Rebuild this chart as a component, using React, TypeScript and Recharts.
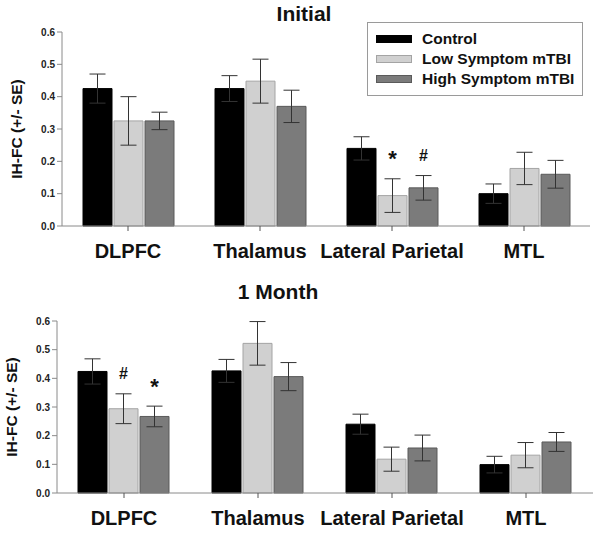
import React from "react";
import {
  BarChart,
  Bar,
  XAxis,
  YAxis,
  ErrorBar,
  LabelList,
} from "recharts";

const regions = ["DLPFC", "Thalamus", "Lateral Parietal", "MTL"];
const yTicks = [0, 0.1, 0.2, 0.3, 0.4, 0.5, 0.6];

// Initial
const initialControl = [0.425, 0.425, 0.24, 0.1];
const initialControlSE = [0.045, 0.04, 0.036, 0.03];
const initialLow = [0.325, 0.448, 0.094, 0.178];
const initialLowSE = [0.075, 0.068, 0.052, 0.05];
const initialHigh = [0.325, 0.37, 0.118, 0.16];
const initialHighSE = [0.027, 0.05, 0.038, 0.043];
const initialLowMarks = ["", "", "*", ""];
const initialHighMarks = ["", "", "#", ""];

// 1 Month
const monthControl = [0.424, 0.426, 0.24, 0.099];
const monthControlSE = [0.044, 0.04, 0.035, 0.029];
const monthLow = [0.294, 0.522, 0.118, 0.132];
const monthLowSE = [0.052, 0.076, 0.042, 0.044];
const monthHigh = [0.267, 0.406, 0.157, 0.178];
const monthHighSE = [0.036, 0.049, 0.045, 0.033];
const monthLowMarks = ["#", "", "", ""];
const monthHighMarks = ["*", "", "", ""];

const groups = [
  { key: "control", name: "Control", fill: "#000000", stroke: "#000000" },
  { key: "low", name: "Low Symptom mTBI", fill: "#d0d0d0", stroke: "#a4a4a4" },
  { key: "high", name: "High Symptom mTBI", fill: "#7b7b7b", stroke: "#5a5a5a" },
];

const font = "Arial, 'Liberation Sans', sans-serif";
const axisColor = "#8a8a8a";

function buildRows(
  control: number[], controlSE: number[],
  low: number[], lowSE: number[],
  high: number[], highSE: number[],
  lowMarks: string[], highMarks: string[]
) {
  return regions.map((region, i) => ({
    region,
    control: control[i],
    controlSE: controlSE[i],
    low: low[i],
    lowSE: lowSE[i],
    high: high[i],
    highSE: highSE[i],
    lowMark: lowMarks[i],
    highMark: highMarks[i],
  }));
}

const initialRows = buildRows(
  initialControl, initialControlSE, initialLow, initialLowSE,
  initialHigh, initialHighSE, initialLowMarks, initialHighMarks
);
const monthRows = buildRows(
  monthControl, monthControlSE, monthLow, monthLowSE,
  monthHigh, monthHighSE, monthLowMarks, monthHighMarks
);

// significance marks sit a bit above the top of the error bar
function markLabel(rows: any[], key: string, lift: number) {
  return (props: any) => {
    const { x, y, width, height, index } = props;
    const row = rows[index];
    const mark = row[key + "Mark"];
    if (!mark) return null;
    const perUnit = height / row[key];
    const errTop = y - row[key + "SE"] * perUnit;
    return (
      <text
        x={x + width / 2}
        y={errTop - lift}
        textAnchor="middle"
        dominantBaseline="central"
        fontFamily={font}
        fontWeight="bold"
        fontSize={mark === "*" ? 22 : 16}
        fill="#111"
      >
        {mark}
      </text>
    );
  };
}

function LegendBox() {
  return (
    <div
      style={{
        position: "absolute",
        left: 367,
        top: 22,
        width: 216,
        border: "1px solid #9a9a9a",
        background: "#fff",
        padding: "6px 0 6px 8px",
        boxSizing: "border-box",
        fontFamily: font,
        fontWeight: "bold",
        fontSize: 15.5,
        color: "#111",
      }}
    >
      {groups.map((g) => (
        <div key={g.key} style={{ display: "flex", alignItems: "center", height: 20 }}>
          <span
            style={{
              display: "inline-block",
              width: 34,
              height: 6,
              background: g.fill,
              border: `1px solid ${g.stroke}`,
              marginRight: 10,
            }}
          />
          {g.name}
        </div>
      ))}
    </div>
  );
}

type PanelProps = {
  rows: any[];
  height: number;
  margin: { top: number; right: number; left: number; bottom: number };
};

function Panel({ rows, height, margin }: PanelProps) {
  return (
    <BarChart
      width={602}
      height={height}
      data={rows}
      margin={margin}
      barCategoryGap={21}
      barGap={2}
    >
      <XAxis
        dataKey="region"
        stroke={axisColor}
        tickLine={{ stroke: "#555" }}
        tickSize={5}
        tick={{ fill: "#111", fontSize: 20, fontWeight: "bold", fontFamily: font, dy: 11 }}
        interval={0}
      />
      <YAxis
        domain={[0, 0.6]}
        ticks={yTicks}
        tickFormatter={(v: number) => v.toFixed(1)}
        stroke={axisColor}
        tickSize={5}
        width={55}
        tick={{ fill: "#222", fontSize: 10, fontWeight: "bold", fontFamily: font }}
        label={{
          value: "IH-FC (+/- SE)",
          angle: -90,
          position: "insideLeft",
          offset: 9,
          style: {
            textAnchor: "middle",
            fontSize: 15.5,
            fontWeight: "bold",
            fontFamily: font,
            fill: "#111",
          },
        }}
      />
      {groups.map((g) => (
        <Bar
          key={g.key}
          dataKey={g.key}
          name={g.name}
          fill={g.fill}
          stroke={g.stroke}
          strokeWidth={1}
          isAnimationActive={false}
        >
          <ErrorBar dataKey={g.key + "SE"} width={8} stroke="#333" strokeWidth={1} />
          {g.key !== "control" && (
            <LabelList dataKey={g.key} content={markLabel(rows, g.key, 20)} />
          )}
        </Bar>
      ))}
    </BarChart>
  );
}

const titleStyle: React.CSSProperties = {
  position: "absolute",
  fontFamily: font,
  fontWeight: "bold",
  fontSize: 21,
  color: "#111",
  transform: "translateX(-50%)",
  whiteSpace: "nowrap",
};

export default function App() {
  return (
    <div
      style={{
        position: "absolute",
        left: 0,
        top: 0,
        width: 602,
        height: 534,
        background: "#fff",
      }}
    >
      <div style={{ position: "absolute", left: 0, top: 0 }}>
        <Panel
          rows={initialRows}
          height={270}
          margin={{ top: 32, right: 12, left: 7, bottom: 14 }}
        />
      </div>
      <div style={{ position: "absolute", left: 0, top: 270 }}>
        <Panel
          rows={monthRows}
          height={264}
          margin={{ top: 51, right: 9, left: 2, bottom: 11 }}
        />
      </div>
      <LegendBox />
      <div style={{ ...titleStyle, left: 304, top: 2 }}>Initial</div>
      <div style={{ ...titleStyle, left: 278, top: 280 }}>1 Month</div>
    </div>
  );
}
